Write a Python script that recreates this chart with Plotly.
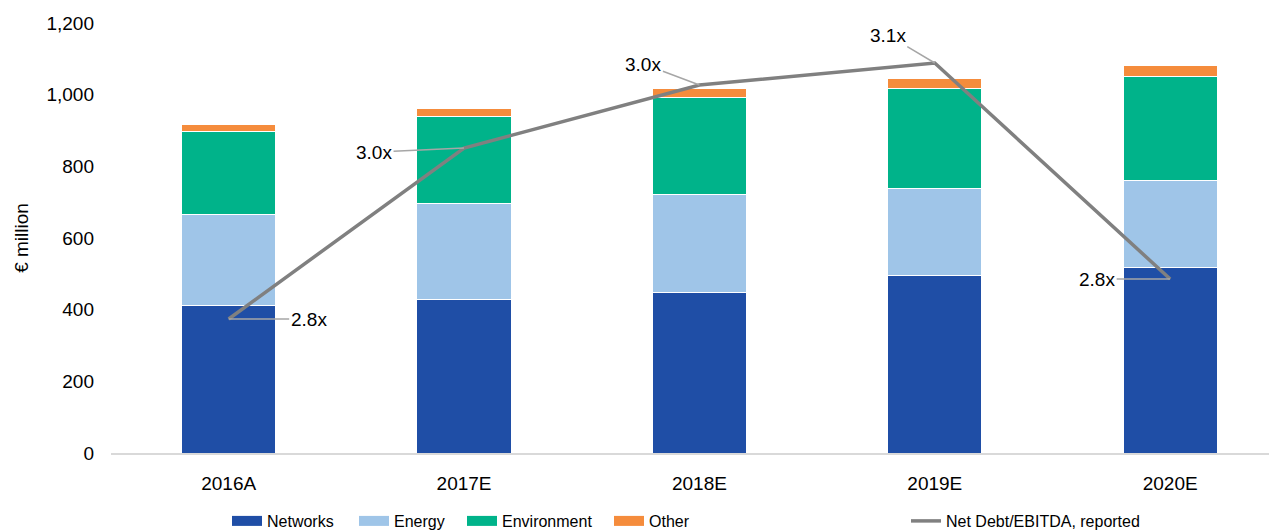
import plotly.graph_objects as go

# ---- data ----
categories = ["2016A", "2017E", "2018E", "2019E", "2020E"]
networks = [411, 427, 447, 494, 517]
energy = [255, 269, 274, 243, 243]
environment = [230, 243, 271, 280, 290]
other = [20, 22, 25, 28, 31]
net_debt_ebitda = [2.804, 2.975, 3.038, 3.06, 2.844]
ratio_labels = ["2.8x", "3.0x", "3.0x", "3.1x", "2.8x"]
y_ticks = [0, 200, 400, 600, 800, 1000, 1200]

# ---- styles ----
FONT = "Liberation Sans, Arial, Helvetica, sans-serif"
series = [
    ("Networks", networks, "#1F4EA6"),
    ("Energy", energy, "#9FC5E8"),
    ("Environment", environment, "#00B38A"),
    ("Other", other, "#F58C3C"),
]
LINE_COLOR = "#808080"
LEADER_COLOR = "#A6A6A6"

fig = go.Figure()

legend_names = ["legend", "legend2", "legend3", "legend4", "legend5"]
for i, (name, vals, col) in enumerate(series):
    fig.add_trace(go.Bar(
        x=categories, y=vals, name=name, marker=dict(color=col, line=dict(color="white", width=1)),
        width=0.4, showlegend=False, hoverinfo="skip"))
    # legend swatch
    fig.add_trace(go.Scatter(
        x=[None], y=[None], mode="lines", name=name,
        line=dict(color=col, width=10), legend=legend_names[i], showlegend=True))

fig.add_trace(go.Scatter(
    x=categories, y=net_debt_ebitda, yaxis="y2", mode="lines",
    name="Net Debt/EBITDA, reported", line=dict(color=LINE_COLOR, width=3.5),
    legend="legend5", showlegend=True))

# leader-line label offsets (pixels, text centre relative to point)
offsets = [(80, 0), (-90, 4), (-56, -21), (-47, -28), (-73, 0)]
for cat, v, lab, (ax, ay) in zip(categories, net_debt_ebitda, ratio_labels, offsets):
    fig.add_annotation(
        x=cat, y=v, xref="x", yref="y2", text=lab, showarrow=True,
        arrowhead=0, arrowwidth=1.5, arrowcolor=LEADER_COLOR, ax=ax, ay=ay,
        standoff=0, font=dict(family=FONT, size=19, color="#000000"))

W, H = 1269, 531
legend_x = [227, 354, 462, 609, 906]
legend_common = dict(orientation="h", xref="container", yref="container",
                     xanchor="left", yanchor="middle", y=1 - 521 / H,
                     bgcolor="rgba(0,0,0,0)", borderwidth=0,
                     font=dict(family=FONT, size=16, color="#000000"))
layout_legends = {}
for ln, lx in zip(legend_names, legend_x):
    layout_legends[ln] = dict(legend_common, x=lx / W)

fig.update_layout(
    width=W, height=H,
    barmode="stack",
    plot_bgcolor="white", paper_bgcolor="white",
    margin=dict(l=111, r=0, t=23, b=78),
    font=dict(family=FONT, size=19, color="#000000"),
    xaxis=dict(range=[-0.5, 4.42], showgrid=False, zeroline=False,
               showline=True, linecolor="#D9D9D9", linewidth=1.5,
               ticks="", ticklabelstandoff=12, tickfont=dict(size=19)),
    yaxis=dict(range=[0, 1200], tickvals=y_ticks, tickformat=",",
               showgrid=False, zeroline=False, showline=False, ticks="",
               ticklabelstandoff=16, tickfont=dict(size=19),
               title=dict(text="€ million", font=dict(size=19), standoff=12)),
    yaxis2=dict(range=[2.67, 3.10], overlaying="y", side="right", visible=False),
    **layout_legends,
)

fig.write_html("out.html")
